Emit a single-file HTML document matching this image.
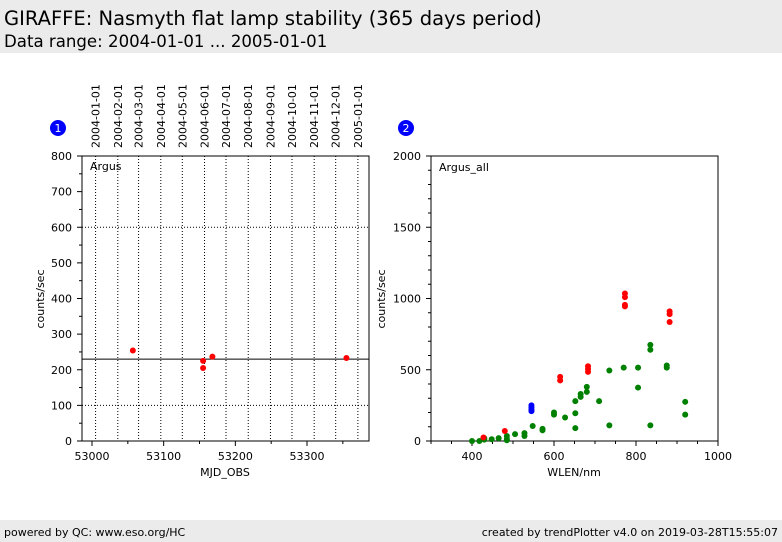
<!DOCTYPE html>
<html><head><meta charset="utf-8"><style>
body{margin:0;width:782px;height:542px;background:#fff;font-family:"DejaVu Sans","Liberation Sans",sans-serif;position:relative;overflow:hidden}
.hdr{position:absolute;left:0;top:0;width:782px;height:53px;background:#ebebeb}
.t1{position:absolute;left:4px;top:7px;font-size:19.5px}
.t2{position:absolute;left:4px;top:32px;font-size:16.6px}
.ftr{position:absolute;left:0;top:520px;width:782px;height:22px;background:#ebebeb;font-size:11px}
svg{position:absolute;left:0;top:0;font-family:"DejaVu Sans",sans-serif}
</style></head><body>
<div class="hdr">
<div class="t1">GIRAFFE: Nasmyth flat lamp stability (365 days period)</div>
<div class="t2">Data range: 2004-01-01 ... 2005-01-01</div>
</div>
<div class="ftr">
<span style="position:absolute;left:4px;top:6px">powered by QC: www.eso.org/HC</span>
<span style="position:absolute;right:4px;top:6px">created by trendPlotter v4.0 on 2019-03-28T15:55:07</span>
</div>
<svg id="c" width="782" height="542" font-size="11"></svg>
<script>
const p1x=[53057,53155,53155,53168,53355];
const p1y=[254,225,205,237,233];
const p1ref=230;
const p1xticks=[53000,53100,53200,53300];
const p1yticks=[0,100,200,300,400,500,600,700,800];
const months=["2004-01-01","2004-02-01","2004-03-01","2004-04-01","2004-05-01","2004-06-01","2004-07-01","2004-08-01","2004-09-01","2004-10-01","2004-11-01","2004-12-01","2005-01-01"];
const monthMjd=[53005,53036,53065,53096,53126,53157,53187,53218,53249,53279,53310,53340,53371];
const gX=[400,418,430,430,448,465,485,485,485,505,528,528,548,572,572,600,600,627,652,652,652,665,665,680,680,710,735,735,770,805,805,835,835,835,875,875,920,920];
const gY=[0,0,10,20,12,20,35,15,5,48,55,35,105,85,75,200,185,165,280,195,90,330,310,380,345,280,495,110,515,515,375,675,640,110,530,515,275,185];
const rX=[428,480,615,615,683,683,683,773,773,773,773,882,882,882];
const rY=[25,70,450,425,525,505,485,1035,1010,955,945,910,890,835];
const bX=[545,545,545,545];
const bY=[250,235,220,210];
const p2xticks=[400,600,800,1000];
const p2yticks=[0,500,1000,1500,2000];

const S=document.getElementById('c');const NS='http://www.w3.org/2000/svg';
function E(t,a,txt){const e=document.createElementNS(NS,t);for(const k in a)e.setAttribute(k,a[k]);if(txt!==undefined)e.textContent=txt;S.appendChild(e);return e;}
const L1=82,R1=369,T=156,B=441;
const x1=v=>92+(v-53000)*0.7167, y1=v=>B-(v/800)*(B-T);
const x2=v=>431+(v-300)*(287/700), y2=v=>B-(v/2000)*(B-T);
monthMjd.forEach((m,i)=>{
 let l=E('line',{x1:x1(m),x2:x1(m),y1:T,y2:B,stroke:'#000','stroke-dasharray':'1,2','stroke-width':1});
 
 let t=E('text',{x:0,y:0,transform:`translate(${x1(m)+4},148) rotate(-90)`},months[i]);
 
});
[100,600].forEach(v=>{let l=E('line',{x1:L1,x2:R1,y1:y1(v),y2:y1(v),stroke:'#000','stroke-dasharray':'1,2'});});
let rl=E('line',{x1:L1,x2:R1,y1:y1(p1ref),y2:y1(p1ref),stroke:'#000'});

let f1=E('rect',{x:L1,y:T,width:R1-L1,height:B-T,fill:'none',stroke:'#000'});

p1yticks.forEach(v=>{E('line',{x1:L1-5,x2:L1,y1:y1(v),y2:y1(v),stroke:'#000'});
 let t=E('text',{x:L1-10,y:y1(v)+4,'text-anchor':'end'},v);
 if(v<800)E('line',{x1:L1-3,x2:L1,y1:y1(v+50),y2:y1(v+50),stroke:'#000'});});
p1xticks.forEach(v=>{E('line',{x1:x1(v),x2:x1(v),y1:B,y2:B+5,stroke:'#000'});
 let t=E('text',{x:x1(v),y:B+19,'text-anchor':'middle'},v);
 E('line',{x1:x1(v+50),x2:x1(v+50),y1:B,y2:B+3,stroke:'#000'});});
let a=E('text',{x:225,y:476,'text-anchor':'middle'},'MJD_OBS');
a=E('text',{x:0,y:0,transform:'translate(44,299) rotate(-90)','text-anchor':'middle'},'counts/sec');
a=E('text',{x:90,y:170},'Argus');
p1x.forEach((v,i)=>{let c=E('circle',{cx:x1(v),cy:y1(p1y[i]),r:3,fill:'#f00'});});
[[58,'1'],[406,'2']].forEach(b=>{let c=E('circle',{cx:b[0],cy:128,r:8,fill:'#00f'});
 let t=E('text',{x:b[0],y:132,'text-anchor':'middle',fill:'#fff','font-size':'11'},b[1]);});
const L2=431,R2=718;
let f2=E('rect',{x:L2,y:T,width:R2-L2,height:B-T,fill:'none',stroke:'#000'});

for(let v=0;v<=2000;v+=100){E('line',{x1:L2-(v%500?3:5),x2:L2,y1:y2(v),y2:y2(v),stroke:'#000'});}
p2yticks.forEach(v=>{let t=E('text',{x:L2-10,y:y2(v)+4,'text-anchor':'end'},v);});
for(let v=300;v<=1000;v+=50){E('line',{x1:x2(v),x2:x2(v),y1:B,y2:B+(v%200?3:5),stroke:'#000'});}
p2xticks.forEach(v=>{let t=E('text',{x:x2(v),y:B+19,'text-anchor':'middle'},v);});
a=E('text',{x:574,y:476,'text-anchor':'middle'},'WLEN/nm');
a=E('text',{x:0,y:0,transform:'translate(385,299) rotate(-90)','text-anchor':'middle'},'counts/sec');
a=E('text',{x:439,y:171},'Argus_all');
function pts(X,Y,col,nm){X.forEach((v,i)=>{let c=E('circle',{cx:x2(v),cy:y2(Y[i]),r:3,fill:col});});}
pts(gX,gY,'#008000','green-point');pts(rX,rY,'#f00','red-point');pts(bX,bY,'#00f','blue-point');
</script>
</body></html>
